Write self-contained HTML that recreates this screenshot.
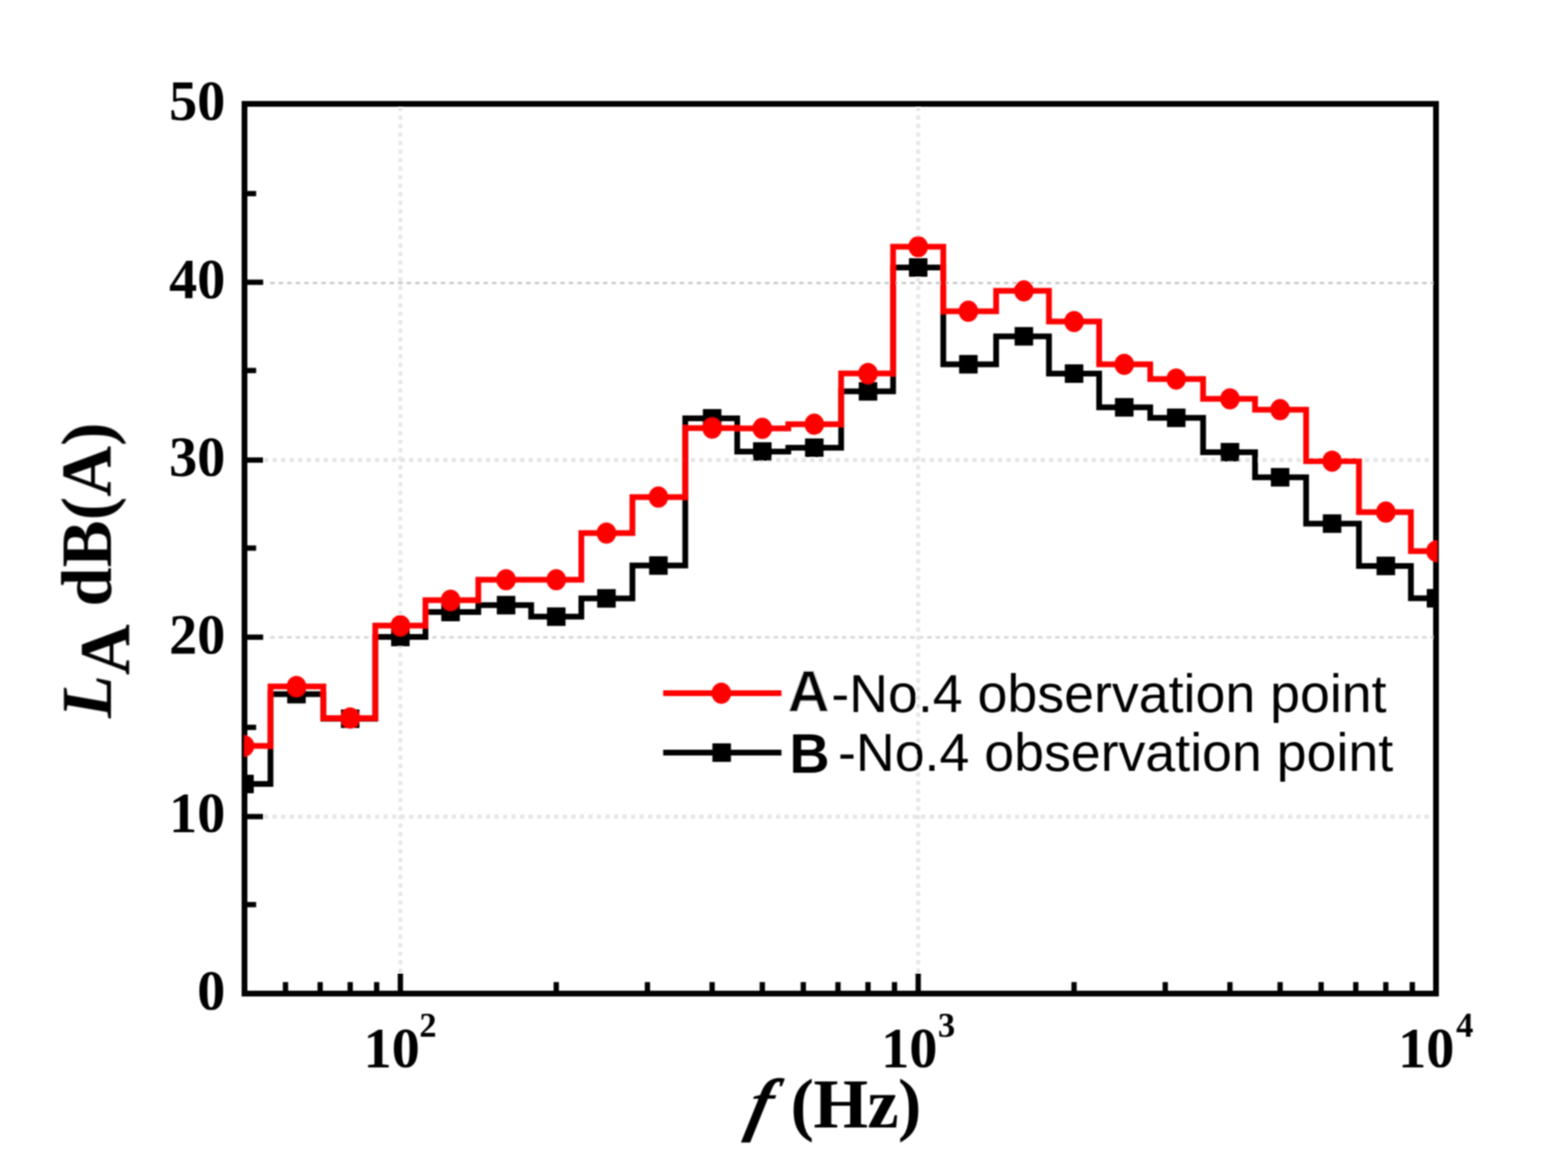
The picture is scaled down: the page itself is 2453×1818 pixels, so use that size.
<!DOCTYPE html>
<html lang="en"><head><meta charset="utf-8"><title>L_A dB(A) vs f (Hz)</title>
<style>
html,body{margin:0;padding:0;background:#fff;}
body{width:2453px;height:1818px;overflow:hidden;}
svg{display:block;}
.serif{font-family:"Liberation Serif","DejaVu Serif",serif;font-weight:bold;fill:#000;}
.sans{font-family:"Liberation Sans","DejaVu Sans",sans-serif;fill:#000;}
</style></head><body>
<svg width="2453" height="1818" viewBox="0 0 2453 1818">
<defs>
<clipPath id="plotclip"><rect x="382.2" y="162.5" width="1866.3" height="1392"/></clipPath>
<filter id="soft" x="0" y="0" width="2453" height="1818" filterUnits="userSpaceOnUse"><feGaussianBlur stdDeviation="1.1"/></filter>
</defs>
<rect x="0" y="0" width="2453" height="1818" fill="#ffffff"/>
<g filter="url(#soft)">
<g fill="none">
<line x1="422.6" y1="442.8" x2="2242.5" y2="442.8" stroke="#c8c8c8" stroke-width="3.4" stroke-dasharray="7 6.35"/>
<line x1="413.1" y1="719.8" x2="2242.5" y2="719.8" stroke="#e5e5e5" stroke-width="6.4" stroke-dasharray="6.6 6.75"/>
<line x1="422.6" y1="997.2" x2="2242.5" y2="997.2" stroke="#d6d6d6" stroke-width="3.8" stroke-dasharray="7 6.35"/>
<line x1="413.1" y1="1277.6" x2="2242.5" y2="1277.6" stroke="#e5e5e5" stroke-width="6.4" stroke-dasharray="6.6 6.75"/>
<line x1="626.36" y1="168.5" x2="626.36" y2="1522" stroke="#e6e6e6" stroke-width="6.0" stroke-dasharray="6.6 6.75" stroke-dashoffset="1.4"/>
<line x1="1436.43" y1="168.5" x2="1436.43" y2="1522" stroke="#e6e6e6" stroke-width="6.0" stroke-dasharray="6.6 6.75" stroke-dashoffset="1.4"/>
</g>
<rect x="382.5" y="162.5" width="1864" height="1392" fill="none" stroke="#000" stroke-width="9.0"/>
<g stroke="#000" fill="none">
<line x1="382.5" y1="441.6" x2="411.7" y2="441.6" stroke-width="8.3"/>
<line x1="382.5" y1="719.8" x2="411.7" y2="719.8" stroke-width="8.3"/>
<line x1="382.5" y1="996.9" x2="411.7" y2="996.9" stroke-width="8.3"/>
<line x1="382.5" y1="1277.6" x2="411.7" y2="1277.6" stroke-width="8.3"/>
<line x1="382.5" y1="1415.3" x2="400.7" y2="1415.3" stroke-width="8.3"/>
<line x1="382.5" y1="1138" x2="400.7" y2="1138" stroke-width="8.3"/>
<line x1="382.5" y1="857.5" x2="400.7" y2="857.5" stroke-width="8.3"/>
<line x1="382.5" y1="579.7" x2="400.7" y2="579.7" stroke-width="8.3"/>
<line x1="382.5" y1="302.9" x2="400.7" y2="302.9" stroke-width="8.3"/>
<line x1="626.36" y1="1554.5" x2="626.36" y2="1523" stroke-width="8.3"/>
<line x1="1436.43" y1="1554.5" x2="1436.43" y2="1523" stroke-width="8.3"/>
<line x1="446.64" y1="1554.5" x2="446.64" y2="1536.5" stroke-width="8.3"/>
<line x1="500.87" y1="1554.5" x2="500.87" y2="1536.5" stroke-width="8.3"/>
<line x1="547.85" y1="1554.5" x2="547.85" y2="1536.5" stroke-width="8.3"/>
<line x1="589.29" y1="1554.5" x2="589.29" y2="1536.5" stroke-width="8.3"/>
<line x1="870.21" y1="1554.5" x2="870.21" y2="1536.5" stroke-width="8.3"/>
<line x1="1012.86" y1="1554.5" x2="1012.86" y2="1536.5" stroke-width="8.3"/>
<line x1="1114.07" y1="1554.5" x2="1114.07" y2="1536.5" stroke-width="8.3"/>
<line x1="1192.57" y1="1554.5" x2="1192.57" y2="1536.5" stroke-width="8.3"/>
<line x1="1256.71" y1="1554.5" x2="1256.71" y2="1536.5" stroke-width="8.3"/>
<line x1="1310.95" y1="1554.5" x2="1310.95" y2="1536.5" stroke-width="8.3"/>
<line x1="1357.92" y1="1554.5" x2="1357.92" y2="1536.5" stroke-width="8.3"/>
<line x1="1399.36" y1="1554.5" x2="1399.36" y2="1536.5" stroke-width="8.3"/>
<line x1="1680.28" y1="1554.5" x2="1680.28" y2="1536.5" stroke-width="8.3"/>
<line x1="1822.93" y1="1554.5" x2="1822.93" y2="1536.5" stroke-width="8.3"/>
<line x1="1924.14" y1="1554.5" x2="1924.14" y2="1536.5" stroke-width="8.3"/>
<line x1="2002.64" y1="1554.5" x2="2002.64" y2="1536.5" stroke-width="8.3"/>
<line x1="2066.79" y1="1554.5" x2="2066.79" y2="1536.5" stroke-width="8.3"/>
<line x1="2121.02" y1="1554.5" x2="2121.02" y2="1536.5" stroke-width="8.3"/>
<line x1="2168" y1="1554.5" x2="2168" y2="1536.5" stroke-width="8.3"/>
<line x1="2209.43" y1="1554.5" x2="2209.43" y2="1536.5" stroke-width="8.3"/>
</g>
<g clip-path="url(#plotclip)">
<path d="M382.5 1226.6 H423.15 V1086 H505.83 V1124.5 H587.1 V996.6 H665.61 V957.5 H748.28 V946.8 H830.96 V964.8 H909.46 V936.2 H989.37 V884.8 H1072.05 V654.5 H1153.32 V706.4 H1233.23 V700.5 H1315.9 V612.3 H1397.18 V418.5 H1475.68 V569.9 H1558.36 V526.2 H1641.03 V584.5 H1719.54 V637.3 H1799.44 V653.7 H1882.12 V707.5 H1963.39 V746.7 H2043.3 V819.2 H2125.97 V885.4 H2207.25 V936 H2246.5" fill="none" stroke="#000" stroke-width="9.0" stroke-linejoin="miter"/>
<rect x="368" y="1212.1" width="29" height="29" fill="#000"/>
<rect x="449.31" y="1071.5" width="29" height="29" fill="#000"/>
<rect x="533.35" y="1110" width="29" height="29" fill="#000"/>
<rect x="611.86" y="982.1" width="29" height="29" fill="#000"/>
<rect x="690.36" y="943" width="29" height="29" fill="#000"/>
<rect x="777.21" y="932.3" width="29" height="29" fill="#000"/>
<rect x="855.71" y="950.3" width="29" height="29" fill="#000"/>
<rect x="934.22" y="921.7" width="29" height="29" fill="#000"/>
<rect x="1015.52" y="870.3" width="29" height="29" fill="#000"/>
<rect x="1099.57" y="640" width="29" height="29" fill="#000"/>
<rect x="1178.07" y="691.9" width="29" height="29" fill="#000"/>
<rect x="1259.38" y="686" width="29" height="29" fill="#000"/>
<rect x="1343.42" y="597.8" width="29" height="29" fill="#000"/>
<rect x="1421.93" y="404" width="29" height="29" fill="#000"/>
<rect x="1500.43" y="555.4" width="29" height="29" fill="#000"/>
<rect x="1587.28" y="511.7" width="29" height="29" fill="#000"/>
<rect x="1665.78" y="570" width="29" height="29" fill="#000"/>
<rect x="1744.29" y="622.8" width="29" height="29" fill="#000"/>
<rect x="1825.6" y="639.2" width="29" height="29" fill="#000"/>
<rect x="1909.64" y="693" width="29" height="29" fill="#000"/>
<rect x="1988.14" y="732.2" width="29" height="29" fill="#000"/>
<rect x="2069.45" y="804.7" width="29" height="29" fill="#000"/>
<rect x="2153.5" y="870.9" width="29" height="29" fill="#000"/>
<rect x="2232" y="921.5" width="29" height="29" fill="#000"/>
<path d="M382.5 1167.1 H423.15 V1074 H505.83 V1123.4 H587.1 V978.8 H665.61 V939.1 H748.28 V907 H830.96 V907 H909.46 V834 H989.37 V777.7 H1072.05 V669.8 H1153.32 V670.2 H1233.23 V663.7 H1315.9 V584.3 H1397.18 V386 H1475.68 V486.9 H1558.36 V455.1 H1641.03 V503.1 H1719.54 V570 H1799.44 V593.1 H1882.12 V624 H1963.39 V640.9 H2043.3 V721.6 H2125.97 V801.2 H2207.25 V862.3 H2246.5" fill="none" stroke="#ff0000" stroke-width="9.0" stroke-linejoin="miter"/>
<ellipse cx="382.5" cy="1167.1" rx="15.3" ry="16.6" fill="#ff0000"/>
<ellipse cx="463.81" cy="1074" rx="15.3" ry="16.6" fill="#ff0000"/>
<ellipse cx="547.85" cy="1123.4" rx="15.3" ry="16.6" fill="#ff0000"/>
<ellipse cx="626.36" cy="978.8" rx="15.3" ry="16.6" fill="#ff0000"/>
<ellipse cx="704.86" cy="939.1" rx="15.3" ry="16.6" fill="#ff0000"/>
<ellipse cx="791.71" cy="907" rx="15.3" ry="16.6" fill="#ff0000"/>
<ellipse cx="870.21" cy="907" rx="15.3" ry="16.6" fill="#ff0000"/>
<ellipse cx="948.72" cy="834" rx="15.3" ry="16.6" fill="#ff0000"/>
<ellipse cx="1030.02" cy="777.7" rx="15.3" ry="16.6" fill="#ff0000"/>
<ellipse cx="1114.07" cy="669.8" rx="15.3" ry="16.6" fill="#ff0000"/>
<ellipse cx="1192.57" cy="670.2" rx="15.3" ry="16.6" fill="#ff0000"/>
<ellipse cx="1273.88" cy="663.7" rx="15.3" ry="16.6" fill="#ff0000"/>
<ellipse cx="1357.92" cy="584.3" rx="15.3" ry="16.6" fill="#ff0000"/>
<ellipse cx="1436.43" cy="386" rx="15.3" ry="16.6" fill="#ff0000"/>
<ellipse cx="1514.93" cy="486.9" rx="15.3" ry="16.6" fill="#ff0000"/>
<ellipse cx="1601.78" cy="455.1" rx="15.3" ry="16.6" fill="#ff0000"/>
<ellipse cx="1680.28" cy="503.1" rx="15.3" ry="16.6" fill="#ff0000"/>
<ellipse cx="1758.79" cy="570" rx="15.3" ry="16.6" fill="#ff0000"/>
<ellipse cx="1840.1" cy="593.1" rx="15.3" ry="16.6" fill="#ff0000"/>
<ellipse cx="1924.14" cy="624" rx="15.3" ry="16.6" fill="#ff0000"/>
<ellipse cx="2002.64" cy="640.9" rx="15.3" ry="16.6" fill="#ff0000"/>
<ellipse cx="2083.95" cy="721.6" rx="15.3" ry="16.6" fill="#ff0000"/>
<ellipse cx="2168" cy="801.2" rx="15.3" ry="16.6" fill="#ff0000"/>
<ellipse cx="2246.5" cy="862.3" rx="15.3" ry="16.6" fill="#ff0000"/>
</g>
<line x1="1037.5" y1="1177.5" x2="1222.5" y2="1177.5" stroke="#000" stroke-width="9.0"/>
<rect x="1114.5" y="1163" width="29" height="29" fill="#000"/>
<line x1="1037.5" y1="1084.6" x2="1222.5" y2="1084.6" stroke="#ff0000" stroke-width="9.0"/>
<ellipse cx="1128.5" cy="1084.6" rx="15.3" ry="16.6" fill="#ff0000"/>
<text class="serif" id="yt50" x="352.6" y="187.1" font-size="88.0" text-anchor="end">50</text>
<text class="serif" id="yt40" x="352.6" y="465.6" font-size="88.0" text-anchor="end">40</text>
<text class="serif" id="yt30" x="352.6" y="743.9" font-size="88.0" text-anchor="end">30</text>
<text class="serif" id="yt20" x="352.6" y="1022.3" font-size="88.0" text-anchor="end">20</text>
<text class="serif" id="yt10" x="352.6" y="1300.7" font-size="88.0" text-anchor="end">10</text>
<text class="serif" id="yt0" x="352.6" y="1579.1" font-size="88.0" text-anchor="end">0</text>
<text class="serif" id="xt2" x="568.85" y="1669.4" font-size="88.0">10<tspan id="xs2" font-size="54.0" x="656" y="1621.6">2</tspan></text>
<text class="serif" id="xt3" x="1378.4" y="1669.4" font-size="88.0">10<tspan id="xs3" font-size="54.0" x="1467.2" y="1621.6">3</tspan></text>
<text class="serif" id="xt4" x="2187.2" y="1669.4" font-size="88.0">10<tspan id="xs4" font-size="54.0" x="2278.1" y="1621.6">4</tspan></text>
<g id="xtitle" font-size="110">
<text class="serif" id="xf" transform="translate(1164.6 1764.4) skewX(-13)" font-style="italic">f</text>
<text class="serif" id="xu" x="1236.8" y="1764.4" letter-spacing="-1">(Hz)</text>
</g>
<text class="serif" id="ytitle" transform="translate(173.5 1123.5) rotate(-90) scale(0.976 1)" font-size="113"><tspan font-style="italic">L</tspan><tspan dy="28.5">A</tspan><tspan dy="-28.5"> dB(A)</tspan></text>
<text class="sans" id="leg1" font-size="84.0"><tspan x="1231.7" y="1112.6" font-weight="bold" font-size="92" stroke="#fff" stroke-width="0.8" stroke-linejoin="round">A</tspan><tspan x="1300.6" y="1114.4">-No.4 observation point</tspan></text>
<text class="sans" id="leg2" font-size="84.0"><tspan x="1235" y="1209.2" font-weight="bold" font-size="87">B</tspan><tspan x="1287.67" y="1206"> -No.4 observation point</tspan></text>
</g>
</svg>
</body></html>
